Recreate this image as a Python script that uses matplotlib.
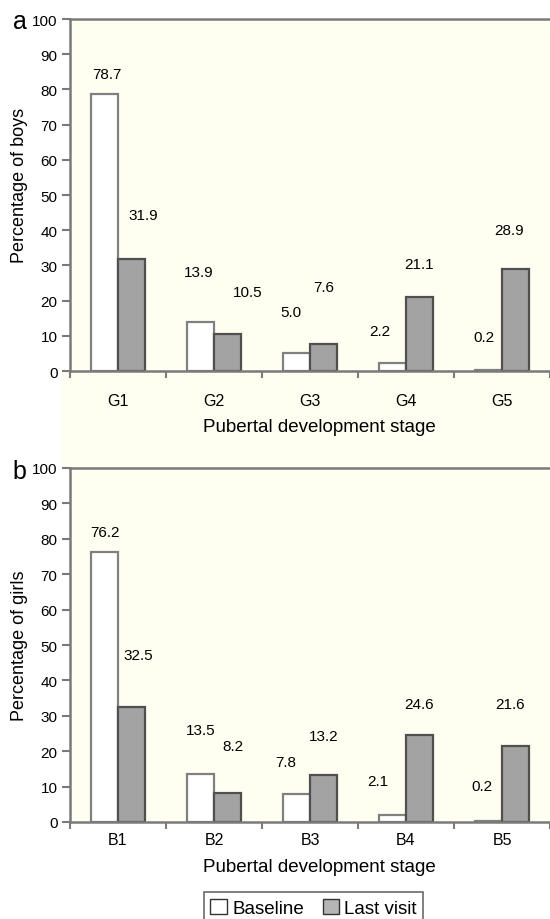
import matplotlib
matplotlib.use("Agg")
import matplotlib.pyplot as plt
from matplotlib.patches import Patch, Rectangle
import numpy as np

plt.rcParams["font.family"] = ["Liberation Sans", "DejaVu Sans"]

boys_stages = ["G1", "G2", "G3", "G4", "G5"]
boys_baseline = [78.7, 13.9, 5.0, 2.2, 0.2]
boys_last = [31.9, 10.5, 7.6, 21.1, 28.9]

girls_stages = ["B1", "B2", "B3", "B4", "B5"]
girls_baseline = [76.2, 13.5, 7.8, 2.1, 0.2]
girls_last = [32.5, 8.2, 13.2, 24.6, 21.6]

# the value labels were placed by hand in the source: (dx, dy) from each bar top
boys_base_off = [(0.02, 5.7), (-0.02, 14.1), (-0.06, 11.7), (-0.13, 9.2), (-0.05, 9.5)]
boys_last_off = [(0.12, 12.4), (0.21, 11.9), (0.0, 16.4), (0.0, 9.3), (-0.07, 11.1)]
girls_base_off = [(0.0, 5.7), (0.0, 12.5), (-0.11, 9.2), (-0.15, 9.5), (-0.07, 10.0)]
girls_last_off = [(0.07, 14.7), (0.06, 13.3), (0.0, 11.1), (0.0, 8.7), (-0.06, 11.7)]

cream = "#fefef1"
spine_c = "#7a7a7a"

fig = plt.figure(figsize=(5.5, 9.2), dpi=100)
# cream band that joins the two panels (behind everything)
fig.patches.append(Rectangle((62 / 550, 1 - 469 / 920), 1, (469 - 372) / 920,
                             transform=fig.transFigure, color=cream, zorder=-5))

ax_a = fig.add_axes([70 / 550, 1 - 372 / 920, 480 / 550, 352 / 920])
ax_b = fig.add_axes([70 / 550, 1 - 823 / 920, 480 / 550, 354 / 920])


def panel(ax, stages, base, last, off_b, off_l, ylabel, ylab_y, tickpad, xlab_y):
    x = np.arange(len(stages)) + 0.5
    w = 0.28
    ax.set_facecolor(cream)
    ax.bar(x - w / 2, base, w, color="white", edgecolor="#808080", lw=1.6, zorder=2)
    ax.bar(x + w / 2, last, w, color="#a3a3a3", edgecolor="#505050", lw=1.6, zorder=2)
    for xi, v, (dx, dy) in zip(x - w / 2, base, off_b):
        ax.text(xi + dx, v + dy, f"{v:.1f}", ha="center", va="center", fontsize=11)
    for xi, v, (dx, dy) in zip(x + w / 2, last, off_l):
        ax.text(xi + dx, v + dy, f"{v:.1f}", ha="center", va="center", fontsize=11)

    ax.set_xlim(0, len(stages))
    ax.set_ylim(0, 100)
    ax.set_xticks(np.arange(len(stages) + 1))
    ax.set_xticklabels([])
    ax.set_xticks(x, minor=True)
    ax.set_xticklabels(stages, minor=True)
    ax.tick_params(axis="x", which="minor", length=0, pad=tickpad, labelsize=11.5)
    ax.tick_params(axis="x", which="major", length=5, width=1.5, color=spine_c)
    ax.set_yticks(np.arange(0, 101, 10))
    ax.tick_params(axis="y", length=6, width=1.5, color=spine_c, pad=3, labelsize=11)

    for s in ("left", "bottom", "top"):
        ax.spines[s].set_color(spine_c)
        ax.spines[s].set_linewidth(1.8)
    ax.spines["right"].set_visible(False)

    ax.set_ylabel(ylabel, fontsize=13)
    ax.yaxis.set_label_coords(-0.088, ylab_y)
    ax.set_xlabel("Pubertal development stage", fontsize=13.5)
    ax.xaxis.set_label_coords(0.52, xlab_y)


panel(ax_a, boys_stages, boys_baseline, boys_last, boys_base_off, boys_last_off,
      "Percentage of boys", 0.53, 16, -0.133)
panel(ax_b, girls_stages, girls_baseline, girls_last, girls_base_off, girls_last_off,
      "Percentage of girls", 0.5, 7.5, -0.103)

fig.text(0.036, 1 - 29 / 920, "a", fontsize=18, ha="center", va="baseline")
fig.text(0.036, 1 - 479 / 920, "b", fontsize=18, ha="center", va="baseline")

handles = [Patch(facecolor="white", edgecolor="#333333", lw=1.0, label="Baseline"),
           Patch(facecolor="#b5b5b5", edgecolor="#333333", lw=1.0, label="Last visit")]
leg = fig.legend(handles=handles, loc="upper center", bbox_to_anchor=(0.57, 1 - 893 / 920),
                 ncol=2, fontsize=13.5, frameon=True, fancybox=False, edgecolor="#444444",
                 handlelength=0.9, handleheight=0.9, handletextpad=0.25,
                 columnspacing=1.0, borderpad=0.35, borderaxespad=0)
leg.get_frame().set_linewidth(1.2)

fig.savefig("out.png", dpi=100, facecolor="white")
